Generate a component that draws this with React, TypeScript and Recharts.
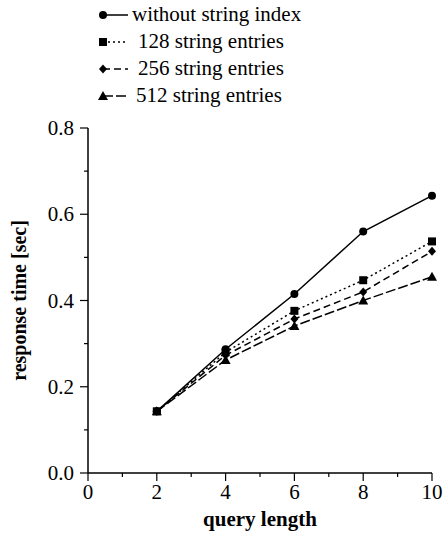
import { LineChart, Line, XAxis, YAxis } from 'recharts';

const queryLength = [2, 4, 6, 8, 10];
const withoutIndex = [0.143, 0.287, 0.415, 0.56, 0.643];
const entries128 = [0.143, 0.28, 0.376, 0.447, 0.537];
const entries256 = [0.143, 0.273, 0.357, 0.42, 0.514];
const entries512 = [0.143, 0.262, 0.341, 0.4, 0.455];

const xTicks = [0, 1, 2, 3, 4, 5, 6, 7, 8, 9, 10];
const yTicks = [0, 0.1, 0.2, 0.3, 0.4, 0.5, 0.6, 0.7, 0.8];

const data = queryLength.map((q, i) => ({
  q,
  s0: withoutIndex[i],
  s1: entries128[i],
  s2: entries256[i],
  s3: entries512[i],
}));

const FONT = 'Liberation Serif, serif';

type Marker = 'circle' | 'square' | 'diamond' | 'triangle';

function markerShape(kind: Marker, cx: number, cy: number, key?: string) {
  if (kind === 'circle') return <circle key={key} cx={cx} cy={cy} r={4} fill="#000" />;
  if (kind === 'square') return <rect key={key} x={cx - 4} y={cy - 4} width={8} height={8} fill="#000" />;
  if (kind === 'diamond')
    return <polygon key={key} points={`${cx},${cy - 4.5} ${cx + 4},${cy} ${cx},${cy + 4.5} ${cx - 4},${cy}`} fill="#000" />;
  return <polygon key={key} points={`${cx},${cy - 5} ${cx + 5},${cy + 4} ${cx - 5},${cy + 4}`} fill="#000" />;
}

const series = [
  { key: 's0', name: 'without string index', dash: undefined, marker: 'circle' as Marker, gap: 4 },
  { key: 's1', name: '128 string entries', dash: '2 3', marker: 'square' as Marker, gap: 10 },
  { key: 's2', name: '256 string entries', dash: '7 4', marker: 'diamond' as Marker, gap: 10 },
  { key: 's3', name: '512 string entries', dash: '10 3', marker: 'triangle' as Marker, gap: 8 },
];

const XTick = ({ x, y, payload }: any) => {
  const major = payload.value % 2 === 0;
  return (
    <g>
      <line x1={x} y1={y} x2={x} y2={y + (major ? 8 : 4)} stroke="#000" strokeWidth={1.2} />
      {major && (
        <text x={x} y={y + 26} textAnchor="middle" fontSize={21} fontFamily={FONT} fill="#000">
          {payload.value}
        </text>
      )}
    </g>
  );
};

const YTick = ({ x, y, payload }: any) => {
  const v = Math.round(payload.value * 10);
  const major = v % 2 === 0;
  return (
    <g>
      <line x1={x} y1={y} x2={x - (major ? 8 : 4)} y2={y} stroke="#000" strokeWidth={1.2} />
      {major && (
        <text x={x - 14} y={y + 7} textAnchor="end" fontSize={21} fontFamily={FONT} fill="#000">
          {(v / 10).toFixed(1)}
        </text>
      )}
    </g>
  );
};

const ChartLegend = () => (
  <div style={{ position: 'absolute', top: 1, left: 98, fontFamily: FONT, fontSize: 21, lineHeight: '27px', color: '#000' }}>
    {series.map((s) => (
      <div key={s.key} style={{ display: 'flex', alignItems: 'center', height: 27 }}>
        <svg width={32} height={20}>
          <line x1={5} y1={10} x2={30} y2={10} stroke="#000" strokeWidth={1.5} strokeDasharray={s.dash} />
          {markerShape(s.marker, 5, 10)}
        </svg>
        <span style={{ marginLeft: s.gap - 2 }}>{s.name}</span>
      </div>
    ))}
  </div>
);

export default function App() {
  return (
    <div style={{ position: 'absolute', left: 0, top: 0, width: 448, height: 536, background: '#fff', fontFamily: FONT }}>
      <LineChart width={448} height={536} data={data} margin={{ top: 128, right: 16, bottom: 0, left: 0 }}>
        <XAxis
          dataKey="q"
          type="number"
          domain={[0, 10]}
          ticks={xTicks}
          interval={0}
          tick={<XTick />}
          tickLine={false}
          tickSize={0}
          tickMargin={0}
          height={63}
          axisLine={{ stroke: '#000', strokeWidth: 1.5 }}
          label={{ value: 'query length', position: 'insideBottom', offset: 10, fontSize: 21, fontWeight: 'bold', fontFamily: FONT, fill: '#000' }}
        />
        <YAxis
          type="number"
          domain={[0, 0.8]}
          ticks={yTicks}
          interval={0}
          tick={<YTick />}
          tickLine={false}
          tickSize={0}
          tickMargin={0}
          width={88}
          axisLine={{ stroke: '#000', strokeWidth: 1.5 }}
          label={{ value: 'response time [sec]', angle: -90, position: 'insideLeft', offset: 19, style: { textAnchor: 'middle' }, fontSize: 20, fontWeight: 'bold', fontFamily: FONT, fill: '#000' }}
        />
        {series.map((s) => (
          <Line
            key={s.key}
            dataKey={s.key}
            name={s.name}
            stroke="#000"
            strokeWidth={1.5}
            strokeDasharray={s.dash}
            isAnimationActive={false}
            dot={(p: any) => markerShape(s.marker, p.cx, p.cy, `${s.key}-${p.index}`)}
            activeDot={false}
          />
        ))}
      </LineChart>
      <ChartLegend />
    </div>
  );
}
